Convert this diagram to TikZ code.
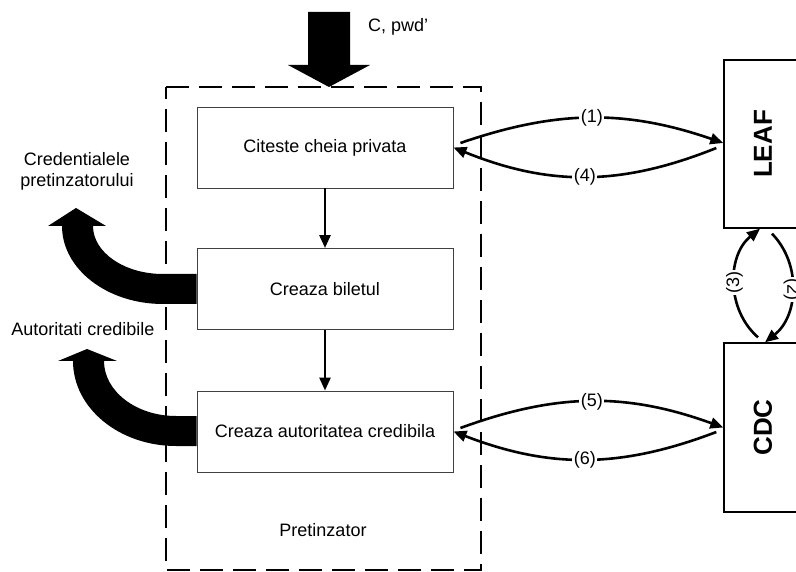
\documentclass[tikz,border=0pt]{standalone}
\usepackage{fontspec}
\setmainfont{Liberation Sans}
\usetikzlibrary{arrows.meta}
\begin{document}
\begin{tikzpicture}[x=1pt,y=-1pt,
  txt/.style={font=\fontsize{18}{21}\selectfont, inner sep=0pt, align=center},
  stepbox/.style={draw=black!75, line width=0.9pt, minimum width=256pt, minimum height=81pt,
    inner sep=0pt, font=\fontsize{18}{21}\selectfont},
  party/.style={draw=black, line width=1.4pt, minimum width=78pt, inner sep=0pt,
    font=\fontsize{26}{30}\selectfont\bfseries},
  conn/.style={line width=2.6pt, -{Triangle[length=13pt,width=11pt]}},
  lbl/.style={fill=white, inner sep=1.5pt, font=\fontsize{18}{21}\selectfont},
  group/.style={line width=1.5pt, dash pattern=on 23pt off 10pt}]
\clip (0,0) rectangle (796,572);
\fill[white] (0,0) rectangle (796,572);

% claimant boundary
\draw[group] (166,87) -- (481,87) -- (481,570) -- (166,570) -- cycle;
\node[txt] (claimant) at (323,530) {Pretinzator};

% input arrow
\fill[black] (308,12) -- (350,12) -- (350,65) -- (370,65) -- (329,87) -- (288,65) -- (308,65) -- cycle;
\node[txt, anchor=west] (input) at (368,27) {C, pwd'};

% processing steps
\node[stepbox] (b1) at (325,147.5) {Citeste cheia privata};
\node[stepbox] (b2) at (325,289) {Creaza biletul};
\node[stepbox] (b3) at (325,431.5) {Creaza autoritatea credibila};
\draw[conn] (b1.south) -- (b2.north);
\draw[conn] (b2.south) -- (b3.north);

% servers
\node[party, minimum height=168pt] (leaf) at (763,144) {\rotatebox{90}{LEAF}};
\node[party, minimum height=169pt] (cdc) at (763,427.5) {\rotatebox{90}{CDC}};

% message exchanges
\draw[conn] ([xshift=7pt,yshift=4.5pt]b1.east) to[bend left=19] node[lbl]{(1)} ([yshift=1pt]leaf.west);
\draw[conn] ([xshift=-7pt,yshift=-4pt]leaf.west) to[bend left=22] node[lbl]{(4)} (b1.east);
\draw[conn] ([xshift=7pt,yshift=3.5pt]b3.east) to[bend left=20] node[lbl]{(5)} (cdc.west);
\draw[conn] ([xshift=-7pt,yshift=-4.5pt]cdc.west) to[bend left=21] node[lbl]{(6)} (b3.east);
\draw[conn] ([xshift=-5pt,yshift=5pt]cdc.north) to[bend left=50] node[lbl, rotate=90]{(3)} ([xshift=-3pt]leaf.south);
\draw[conn] ([xshift=9pt,yshift=-5pt]leaf.south) to[bend left=48] node[lbl, rotate=-90]{(2)} ([xshift=2pt]cdc.north);

% outputs
\fill[black] (b2.west |- 0,274) -- (163,274) .. controls (124.4,274) and (93,252.5) .. (93,226)
  -- (106,226) -- (76,208) -- (48,226) -- (62,226)
  .. controls (62,269) and (107.2,304) .. (163,304) -- (b2.west |- 0,304) -- cycle;
\node[txt] (cred) at (77,171) {Credentialele\\pretinzatorului};

\fill[black] (b3.west |- 0,416) -- (176,416) .. controls (136.3,416) and (104,391.4) .. (104,361)
  -- (117,361) -- (87,349) -- (58,361) -- (73,361)
  .. controls (73,408) and (119.1,446) .. (176,446) -- (b3.west |- 0,446) -- cycle;
\node[txt] (auth) at (83,329) {Autoritati credibile};
\end{tikzpicture}
\end{document}
